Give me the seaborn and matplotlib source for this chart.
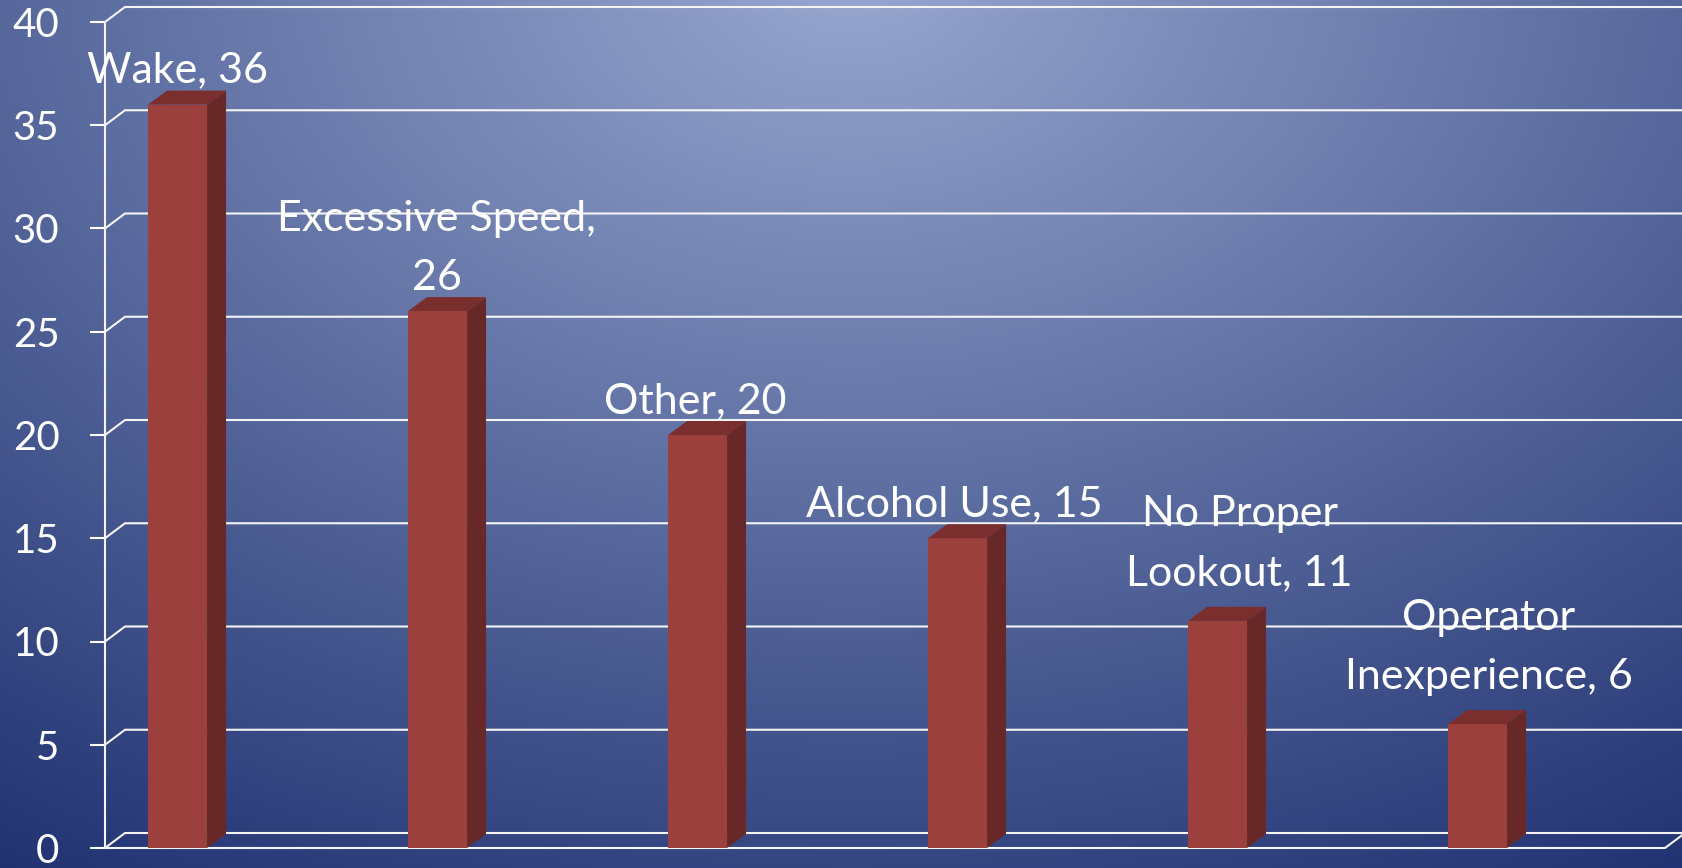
import numpy as np
import matplotlib.pyplot as plt
import seaborn as sns
from matplotlib.patches import Polygon
from matplotlib.lines import Line2D
from matplotlib.transforms import IdentityTransform

# ---------------------------------------------------------------------
# DATA
# ---------------------------------------------------------------------
causes = ["Wake", "Excessive Speed", "Other", "Alcohol Use",
          "No Proper Lookout", "Operator Inexperience"]
counts = [36, 26, 20, 15, 11, 6]
labels = ["Wake, 36", "Excessive Speed,\n26", "Other, 20", "Alcohol Use, 15",
          "No Proper\nLookout, 11", "Operator\nInexperience, 6"]
y_ticks = [0, 5, 10, 15, 20, 25, 30, 35, 40]

# label nudges in pixels (x shift, gap above bar top)
label_dx = [0, -1, -2, -3, 22, 11]
label_dy = [15, 14, 15, 15, 29, 28]

W, H = 1683, 868
FRONT = "#9C403D"
TOP = "#7A2E2E"
SIDE = "#682828"
LINE = "#F4F4F4"
DEPTH_WALL = (20, 15)
DEPTH_BAR = (19, 14)

sns.set_theme(style="white")
plt.rcParams["font.family"] = ["Lato", "DejaVu Sans"]

fig = plt.figure(figsize=(W / 100, H / 100), dpi=100)

# ---------------------------------------------------------------------
# background gradient
# ---------------------------------------------------------------------
bg = fig.add_axes([0, 0, 1, 1], zorder=-10)
yy, xx = np.mgrid[0:H, 0:W]
t = np.clip(np.hypot((xx - 850) / 1600, (yy + 20) / 1100), 0, 1)
light = np.array([152, 167, 207]) / 255
dark = np.array([28, 46, 110]) / 255
bg.imshow(light + (dark - light) * t[..., None], aspect="auto")
bg.axis("off")

# ---------------------------------------------------------------------
# bars
# ---------------------------------------------------------------------
ax = fig.add_axes([105 / W, 20 / H, 1560 / W, 826 / H])
ax.set_facecolor("none")
sns.barplot(x=causes, y=counts, color=FRONT, width=0.227, saturation=1,
            ax=ax, zorder=3, linewidth=0)
ax.set_xlim(-0.279, 5.721)
ax.set_ylim(0, 40)
ax.set_xticks([])
ax.set_yticks(y_ticks)
ax.set_yticklabels([str(v) for v in y_ticks])
ax.set_xlabel("")
ax.set_ylabel("")
ax.tick_params(axis="y", left=True, colors="white", labelsize=29,
               length=10.8, width=1.5, pad=22, direction="out")
for s in ["top", "right"]:
    ax.spines[s].set_visible(False)
for s in ["left", "bottom"]:
    ax.spines[s].set_color(LINE)
    ax.spines[s].set_linewidth(1.5)
    ax.spines[s].set_zorder(2)

trans = ax.transData
ident = IdentityTransform()

# gridlines on the back wall + diagonals to the side wall
x_left = trans.transform((ax.get_xlim()[0], 0))[0]
x_right = trans.transform((ax.get_xlim()[1], 0))[0]
dxw, dyw = DEPTH_WALL
for v in y_ticks:
    py = trans.transform((0, v))[1]
    ax.add_line(Line2D([x_left, x_left + dxw, x_right + dxw],
                       [py, py + dyw, py + dyw], color=LINE, lw=1.5,
                       transform=ident, clip_on=False, zorder=1))
py0 = trans.transform((0, 0))[1]
ax.add_line(Line2D([x_right, x_right + dxw], [py0, py0 + dyw], color=LINE,
                   lw=1.5, transform=ident, clip_on=False, zorder=1))

# 3d faces of the bars
dxb, dyb = DEPTH_BAR
for p in ax.patches[:len(counts)]:
    x0 = p.get_x()
    (bx, by) = trans.transform((x0, 0))
    (tx, ty) = trans.transform((x0 + p.get_width(), p.get_height()))
    top = Polygon([(bx, ty), (tx, ty), (tx + dxb, ty + dyb), (bx + dxb, ty + dyb)],
                  closed=True, facecolor=TOP, edgecolor="none",
                  transform=ident, clip_on=False, zorder=3)
    side = Polygon([(tx, by), (tx, ty), (tx + dxb, ty + dyb), (tx + dxb, by + dyb)],
                   closed=True, facecolor=SIDE, edgecolor="none",
                   transform=ident, clip_on=False, zorder=3)
    ax.add_patch(top)
    ax.add_patch(side)

# data labels
for i, (lbl, v) in enumerate(zip(labels, counts)):
    ax.annotate(lbl, xy=(i, v), xytext=(label_dx[i] * 0.72, label_dy[i] * 0.72),
                textcoords="offset points", ha="center", va="bottom",
                color="white", fontsize=31, linespacing=1.68, zorder=5,
                annotation_clip=False)

fig.savefig("out.png", dpi=100)
